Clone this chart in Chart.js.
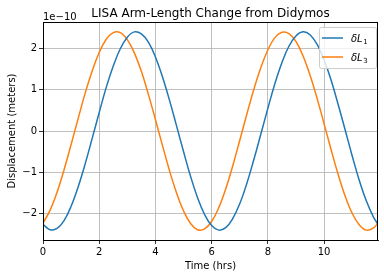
<!DOCTYPE html>
<html>
<head>
<meta charset="utf-8">
<script src="https://cdn.jsdelivr.net/npm/chart.js@4"></script>
<style>
  html, body { margin: 0; padding: 0; background: #fff; }
  #wrap { width: 384px; height: 278px; position: relative; }
</style>
</head>
<body>
<div id="wrap"><canvas id="myChart" width="384" height="278"></canvas></div>
<script>
// time in hours, displacement in units of 1e-10 m
const hours = [0, 0.25, 0.5, 0.75, 1, 1.25, 1.5, 1.75, 2, 2.25, 2.5, 2.75,
  3, 3.25, 3.5, 3.75, 4, 4.25, 4.5, 4.75, 5, 5.25, 5.5, 5.75,
  6, 6.25, 6.5, 6.75, 7, 7.25, 7.5, 7.75, 8, 8.25, 8.5, 8.75,
  9, 9.25, 9.5, 9.75, 10, 10.25, 10.5, 10.75, 11, 11.25, 11.5, 11.75, 11.92];

const dL1 = [-2.27, -2.40, -2.37, -2.18, -1.83, -1.36, -0.80, -0.18, 0.45, 1.06, 1.58, 2.00,
  2.28, 2.41, 2.36, 2.16, 1.80, 1.32, 0.75, 0.13, -0.50, -1.10, -1.62, -2.03,
  -2.30, -2.41, -2.35, -2.13, -1.77, -1.28, -0.70, -0.08, 0.55, 1.15, 1.66, 2.06,
  2.31, 2.41, 2.34, 2.11, 1.73, 1.24, 0.65, 0.03, -0.60, -1.19, -1.69, -2.08, -2.27];

const dL3 = [-2.24, -1.93, -1.49, -0.94, -0.33, 0.30, 0.92, 1.46, 1.91, 2.23, 2.39, 2.39,
  2.22, 1.90, 1.45, 0.89, 0.28, -0.35, -0.96, -1.50, -1.94, -2.25, -2.40, -2.38,
  -2.20, -1.87, -1.41, -0.85, -0.23, 0.40, 1.01, 1.54, 1.97, 2.27, 2.40, 2.37,
  2.18, 1.83, 1.36, 0.80, 0.18, -0.45, -1.05, -1.58, -2.00, -2.28, -2.41, -2.36, -2.24];

const xTicks = [0, 2, 4, 6, 8, 10];
const yTicks = [-2, -1, 0, 1, 2];
const seriesNames = ['1', '3']; // subscripts for δL
const colors = ['#1f77b4', '#ff7f0e'];

const FONT = 'DejaVu Sans';

function minus(v) {
  return String(v).replace('-', '\u2212');
}

// title, offset text, frame and legend drawn on top
const extras = {
  id: 'extras',
  afterDraw(chart) {
    const ctx = chart.ctx;
    const a = chart.chartArea;
    ctx.save();

    // axes frame
    ctx.strokeStyle = '#000';
    ctx.lineWidth = 1;
    ctx.strokeRect(Math.round(a.left) + 0.5, Math.round(a.top) + 0.5,
      Math.round(a.right - a.left) - 1, Math.round(a.bottom - a.top));

    // title
    ctx.fillStyle = '#000';
    ctx.font = '12px "' + FONT + '"';
    ctx.textAlign = 'center';
    ctx.textBaseline = 'alphabetic';
    ctx.fillText('LISA Arm-Length Change from Didymos', (a.left + a.right) / 2, 17);

    // offset text
    ctx.font = '10px "' + FONT + '"';
    ctx.textAlign = 'left';
    ctx.fillText('1e\u221210', a.left, 20);

    // legend
    const lx = 319, ly = 27, lw = 57, lh = 41;
    ctx.fillStyle = 'rgba(255,255,255,0.8)';
    ctx.strokeStyle = '#cccccc';
    ctx.beginPath();
    ctx.roundRect(lx + 0.5, ly + 0.5, lw, lh, 2);
    ctx.fill();
    ctx.stroke();

    chart.data.datasets.forEach((ds, i) => {
      const y = 38 + i * 19;
      ctx.strokeStyle = ds.borderColor;
      ctx.lineWidth = 1.5;
      ctx.beginPath();
      ctx.moveTo(322, y);
      ctx.lineTo(343, y);
      ctx.stroke();

      ctx.fillStyle = '#000';
      ctx.font = 'italic 10px "' + FONT + '"';
      ctx.textAlign = 'left';
      ctx.fillText('\u03b4L', 351, y + 4);
      const w = ctx.measureText('\u03b4L').width;
      ctx.font = '7px "' + FONT + '"';
      ctx.fillText(seriesNames[i], 351 + w + 0.5, y + 6);
    });

    ctx.restore();
  }
};

new Chart(document.getElementById('myChart').getContext('2d'), {
  type: 'line',
  data: {
    datasets: [
      {
        label: 'δL1',
        data: hours.map((h, i) => ({ x: h, y: dL1[i] })),
        borderColor: colors[0],
        backgroundColor: colors[0],
        borderWidth: 1.5,
        pointRadius: 0,
        tension: 0.4,
        fill: false
      },
      {
        label: 'δL3',
        data: hours.map((h, i) => ({ x: h, y: dL3[i] })),
        borderColor: colors[1],
        backgroundColor: colors[1],
        borderWidth: 1.5,
        pointRadius: 0,
        tension: 0.4,
        fill: false
      }
    ]
  },
  options: {
    responsive: false,
    animation: false,
    events: [],
    layout: { padding: { top: 22, right: 6, left: 0, bottom: 0 } },
    plugins: {
      legend: { display: false },
      title: { display: false },
      tooltip: { enabled: false }
    },
    scales: {
      x: {
        type: 'linear',
        min: 0,
        max: 11.92,
        afterBuildTicks: (s) => { s.ticks = xTicks.map(v => ({ value: v })); },
        afterFit: (s) => { s.height = 38; },
        ticks: {
          color: '#000',
          font: { family: FONT, size: 10 },
          padding: 2,
          maxRotation: 0,
          callback: (v) => minus(v)
        },
        grid: {
          color: '#b0b0b0',
          lineWidth: 0.8,
          tickColor: '#000',
          tickLength: 4,
          drawOnChartArea: true
        },
        border: { color: '#000', width: 1 },
        title: {
          display: true,
          text: 'Time (hrs)',
          color: '#000',
          font: { family: FONT, size: 10 },
          padding: { top: 0, bottom: 6 }
        }
      },
      y: {
        type: 'linear',
        min: -2.65,
        max: 2.65,
        afterBuildTicks: (s) => { s.ticks = yTicks.map(v => ({ value: v })); },
        afterFit: (s) => { s.width = 43; },
        ticks: {
          color: '#000',
          font: { family: FONT, size: 10 },
          padding: 2,
          callback: (v) => minus(v)
        },
        grid: {
          color: '#b0b0b0',
          lineWidth: 0.8,
          tickColor: '#000',
          tickLength: 4
        },
        border: { color: '#000', width: 1 },
        title: {
          display: true,
          text: 'Displacement (meters)',
          color: '#000',
          font: { family: FONT, size: 10 },
          padding: { top: 6, bottom: 0 }
        }
      }
    }
  },
  plugins: [extras]
});
</script>
</body>
</html>
